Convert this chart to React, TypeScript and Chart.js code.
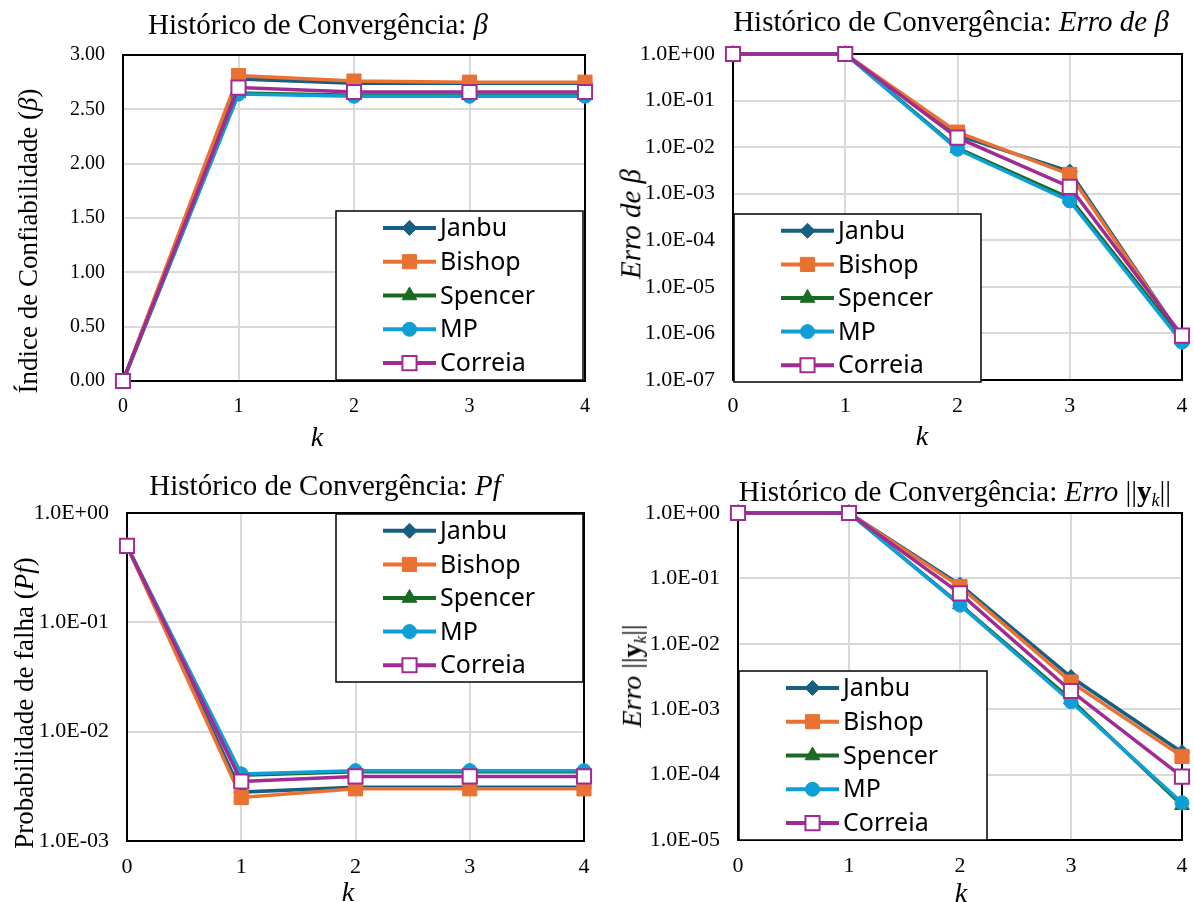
import React, { useEffect, useRef } from 'react';
import { Chart, registerables } from 'chart.js';

Chart.register(...registerables);

// ---------- data ----------
const kLabels = ['0', '1', '2', '3', '4'];
const seriesNames = ['Janbu', 'Bishop', 'Spencer', 'MP', 'Correia'];

const betaJanbu = [0, 2.78, 2.74, 2.74, 2.74];
const betaBishop = [0, 2.81, 2.76, 2.75, 2.75];
const betaSpencer = [0, 2.65, 2.63, 2.63, 2.63];
const betaMP = [0, 2.64, 2.62, 2.62, 2.62];
const betaCorreia = [0, 2.70, 2.66, 2.66, 2.66];

const errBetaJanbu = [1, 1, 0.018, 0.003, 8e-7];
const errBetaBishop = [1, 1, 0.021, 0.0026, 8e-7];
const errBetaSpencer = [1, 1, 0.0095, 0.0008, 7.5e-7];
const errBetaMP = [1, 1, 0.009, 0.0007, 6.5e-7];
const errBetaCorreia = [1, 1, 0.016, 0.0014, 9e-7];

const pfJanbu = [0.5, 0.0028, 0.0031, 0.0031, 0.0031];
const pfBishop = [0.5, 0.0025, 0.0030, 0.0030, 0.0030];
const pfSpencer = [0.5, 0.0040, 0.0043, 0.0043, 0.0043];
const pfMP = [0.5, 0.0041, 0.0044, 0.0044, 0.0044];
const pfCorreia = [0.5, 0.0035, 0.0039, 0.0039, 0.0039];

const errYJanbu = [1, 1, 0.08, 0.0031, 0.00022];
const errYBishop = [1, 1, 0.075, 0.0026, 0.00019];
const errYSpencer = [1, 1, 0.04, 0.0014, 0.000034];
const errYMP = [1, 1, 0.039, 0.0013, 0.000037];
const errYCorreia = [1, 1, 0.059, 0.0019, 0.000093];

const betaTicks = [0, 0.5, 1, 1.5, 2, 2.5, 3];
const errBetaTicks = [1e-7, 1e-6, 1e-5, 1e-4, 1e-3, 1e-2, 1e-1, 1];
const pfTicks = [1e-3, 1e-2, 1e-1, 1];
const errYTicks = [1e-5, 1e-4, 1e-3, 1e-2, 1e-1, 1];

// ---------- styles ----------
const seriesColors = ['#156082', '#E97132', '#196B24', '#0F9ED5', '#A02B93'];
const markerStyles: any[] = [
  { style: 'rectRot', radius: 7.5, fill: null, bw: 1 },
  { style: 'rect', radius: 10, fill: null, bw: 1 },
  { style: 'triangle', radius: 8.5, fill: null, bw: 1 },
  { style: 'circle', radius: 7, fill: null, bw: 1 },
  { style: 'rect', radius: 10, fill: '#ffffff', bw: 2 },
];

const SERIF = "'Liberation Serif', 'Times New Roman', serif";
const SANS = "'Noto Sans', 'DejaVu Sans', sans-serif";

const fmtFixed = (v: number) => v.toFixed(2);
const fmtSci = (v: number) => {
  const e = Math.round(Math.log10(v));
  return '1.0E' + (e >= 0 ? '+' : '-') + String(Math.abs(e)).padStart(2, '0');
};

const panels = [
  {
    key: 'beta', left: 0, top: 0, w: 597, h: 450, tickSize: 20,
    area: { l: 123, t: 55, r: 585, b: 381 },
    yType: 'linear', yMin: 0, yMax: 3, ticks: betaTicks, fmt: fmtFixed,
    series: [betaJanbu, betaBishop, betaSpencer, betaMP, betaCorreia],
    legend: { x: 336, y: 211, w: 247, h: 169 },
  },
  {
    key: 'errBeta', left: 597, top: 0, w: 597, h: 450, tickSize: 22,
    area: { l: 136, t: 54, r: 592, b: 380 },
    yType: 'logarithmic', yMin: 1e-7, yMax: 1, ticks: errBetaTicks, fmt: fmtSci,
    series: [errBetaJanbu, errBetaBishop, errBetaSpencer, errBetaMP, errBetaCorreia],
    legend: { x: 137, y: 214, w: 247, h: 168 },
  },
  {
    key: 'pf', left: 0, top: 450, w: 597, h: 452, tickSize: 22,
    area: { l: 127, t: 63, r: 584, b: 391 },
    yType: 'logarithmic', yMin: 1e-3, yMax: 1, ticks: pfTicks, fmt: fmtSci,
    series: [pfJanbu, pfBishop, pfSpencer, pfMP, pfCorreia],
    legend: { x: 336, y: 64, w: 247, h: 168 },
  },
  {
    key: 'errY', left: 597, top: 450, w: 597, h: 452, tickSize: 22,
    area: { l: 141, t: 63, r: 592, b: 390 },
    yType: 'logarithmic', yMin: 1e-5, yMax: 1, ticks: errYTicks, fmt: fmtSci,
    series: [errYJanbu, errYBishop, errYSpencer, errYMP, errYCorreia],
    legend: { x: 142, y: 221, w: 248, h: 169 },
  },
];

// ---------- plugins ----------
const frameAndLegend = {
  id: 'frameAndLegend',
  beforeDatasetsDraw(chart: any) {
    const { ctx, chartArea: a } = chart;
    ctx.save();
    ctx.strokeStyle = '#000000';
    ctx.lineWidth = 2;
    ctx.strokeRect(a.left, a.top, a.right - a.left, a.bottom - a.top);
    ctx.restore();
  },
  afterDatasetsDraw(chart: any, _args: any, opts: any) {
    const box = opts.box;
    if (!box) return;
    const { ctx } = chart;
    ctx.save();
    ctx.fillStyle = '#ffffff';
    ctx.fillRect(box.x, box.y, box.w, box.h);
    ctx.strokeStyle = '#000000';
    ctx.lineWidth = 1.5;
    ctx.strokeRect(box.x, box.y, box.w, box.h);
    const rowH = box.h / 5;
    chart.data.datasets.forEach((ds: any, i: number) => {
      const cy = box.y + rowH * (i + 0.5);
      const x0 = box.x + 47;
      const x1 = box.x + 100;
      const cx = (x0 + x1) / 2;
      ctx.strokeStyle = ds.borderColor;
      ctx.lineWidth = 4;
      ctx.beginPath();
      ctx.moveTo(x0, cy);
      ctx.lineTo(x1, cy);
      ctx.stroke();
      const m = markerStyles[i];
      const r = m.radius;
      ctx.beginPath();
      if (m.style === 'rect') {
        const s = r * Math.SQRT1_2;
        ctx.rect(cx - s, cy - s, 2 * s, 2 * s);
      } else if (m.style === 'rectRot') {
        ctx.moveTo(cx - r, cy);
        ctx.lineTo(cx, cy - r);
        ctx.lineTo(cx + r, cy);
        ctx.lineTo(cx, cy + r);
        ctx.closePath();
      } else if (m.style === 'triangle') {
        let rad = 0;
        ctx.moveTo(cx + Math.sin(rad) * r, cy - Math.cos(rad) * r);
        rad += (2 * Math.PI) / 3;
        ctx.lineTo(cx + Math.sin(rad) * r, cy - Math.cos(rad) * r);
        rad += (2 * Math.PI) / 3;
        ctx.lineTo(cx + Math.sin(rad) * r, cy - Math.cos(rad) * r);
        ctx.closePath();
      } else {
        ctx.arc(cx, cy, r, 0, Math.PI * 2);
      }
      ctx.fillStyle = m.fill || ds.borderColor;
      ctx.fill();
      ctx.lineWidth = m.bw;
      ctx.strokeStyle = ds.borderColor;
      ctx.stroke();
      ctx.fillStyle = '#000000';
      ctx.font = `25px ${SANS}`;
      ctx.textAlign = 'left';
      ctx.textBaseline = 'middle';
      ctx.fillText(ds.label, box.x + 104, cy + 1);
    });
    ctx.restore();
  },
};

const Y_W = 100;
const X_H = 40;

function buildConfig(p: any): any {
  const datasets = p.series.map((values: number[], i: number) => {
    const m = markerStyles[i];
    return {
      label: seriesNames[i],
      data: values,
      borderColor: seriesColors[i],
      backgroundColor: m.fill || seriesColors[i],
      borderWidth: 3.5,
      pointStyle: m.style,
      pointRadius: m.radius,
      pointBackgroundColor: m.fill || seriesColors[i],
      pointBorderColor: seriesColors[i],
      pointBorderWidth: m.bw,
      tension: 0,
      clip: false,
      order: 5 - i,
    };
  });
  // label centre sits lineHeight/2 below the plot bottom
  const xTickFont = { family: SERIF, size: p.tickSize, lineHeight: 52 / p.tickSize };
  const yTickFont = { family: SERIF, size: p.tickSize };
  return {
    type: 'line',
    data: { labels: kLabels, datasets },
    options: {
      responsive: false,
      animation: false,
      events: [],
      layout: {
        padding: {
          left: p.area.l - Y_W,
          right: p.w - p.area.r,
          top: p.area.t,
          bottom: p.h - p.area.b - X_H,
        },
      },
      plugins: {
        legend: { display: false },
        tooltip: { enabled: false },
        title: { display: false },
        frameAndLegend: { box: p.legend },
      },
      scales: {
        x: {
          type: 'category',
          offset: false,
          grid: { color: '#d9d9d9', lineWidth: 2, drawTicks: false },
          border: { display: false },
          ticks: { font: xTickFont, color: '#000000', padding: 0, maxRotation: 0, autoSkip: false },
          afterFit: (s: any) => { s.height = X_H; },
        },
        y: {
          type: p.yType,
          min: p.yMin,
          max: p.yMax,
          grid: { color: '#d9d9d9', lineWidth: 2, drawTicks: false },
          border: { display: false },
          ticks: {
            font: yTickFont,
            color: '#000000',
            padding: 18,
            autoSkip: false,
            callback: (v: any) => p.fmt(Number(v)),
          },
          afterBuildTicks: (s: any) => { s.ticks = p.ticks.map((v: number) => ({ value: v })); },
          afterFit: (s: any) => { s.width = Y_W; },
        },
      },
    },
    plugins: [frameAndLegend],
  };
}

function ChartPanel({ p }: { p: any }) {
  const ref = useRef<HTMLCanvasElement>(null);
  useEffect(() => {
    const chart = new Chart(ref.current as HTMLCanvasElement, buildConfig(p));
    return () => chart.destroy();
  }, []);
  return (
    <canvas
      ref={ref}
      width={p.w}
      height={p.h}
      style={{ position: 'absolute', left: p.left, top: p.top, width: p.w, height: p.h }}
    />
  );
}

const textBase: React.CSSProperties = {
  position: 'absolute',
  whiteSpace: 'nowrap',
  fontFamily: SERIF,
  color: '#000',
  lineHeight: 1.15,
};

function Label({ x, y, size, rotate, children }: any) {
  return (
    <div
      style={{
        ...textBase,
        left: x,
        top: y,
        fontSize: size,
        transform: rotate ? 'translate(-50%, -50%) rotate(-90deg)' : 'translate(-50%, -50%)',
      }}
    >
      {children}
    </div>
  );
}

const Sub = ({ children }: any) => (
  <span style={{ fontSize: '0.62em', position: 'relative', top: '0.3em' }}>{children}</span>
);

export default function App() {
  return (
    <div style={{ position: 'absolute', left: 0, top: 0, width: 1194, height: 902, background: '#fff', overflow: 'hidden' }}>
      {panels.map((p) => (
        <ChartPanel key={p.key} p={p} />
      ))}
      {/* titles */}
      <Label x={318} y={25} size={29}>Histórico de Convergência: <i>β</i></Label>
      <Label x={951} y={22} size={29}>Histórico de Convergência: <i>Erro de β</i></Label>
      <Label x={325} y={486} size={29}>Histórico de Convergência: <i>Pf</i></Label>
      <Label x={955} y={492} size={29}>
        Histórico de Convergência: <i>Erro</i> ||<b>y</b><Sub><i>k</i></Sub>||
      </Label>
      {/* y-axis titles */}
      <Label x={29} y={241} size={27} rotate>Índice de Confiabilidade (<i>β</i>)</Label>
      <Label x={631} y={224} size={29} rotate><i>Erro de β</i></Label>
      <Label x={25} y={703} size={27} rotate>Probabilidade de falha (<i>Pf</i>)</Label>
      <Label x={632} y={676} size={28} rotate>
        <i>Erro</i> ||<b>y</b><Sub><i>k</i></Sub>||
      </Label>
      {/* x-axis titles */}
      <Label x={317} y={437} size={28}><i>k</i></Label>
      <Label x={922} y={436} size={28}><i>k</i></Label>
      <Label x={348} y={892} size={28}><i>k</i></Label>
      <Label x={961} y={893} size={28}><i>k</i></Label>
    </div>
  );
}
